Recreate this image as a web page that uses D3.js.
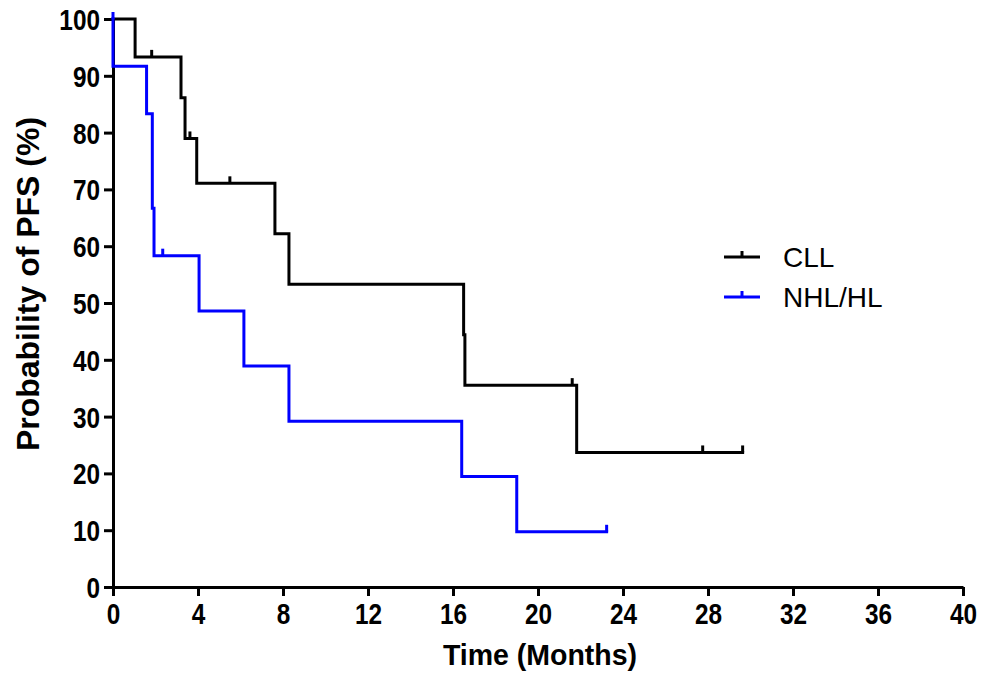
<!DOCTYPE html>
<html>
<head>
<meta charset="utf-8">
<script src="https://cdn.jsdelivr.net/npm/d3@7"></script>
<style>
  body { margin: 0; background: #fff; }
  svg { display: block; }
</style>
</head>
<body>
<div id="chart"></div>
<script>
// Kaplan-Meier steps: time of each drop (months) and survival after it (%)
var cllTimes = [1.04, 3.2, 3.39, 3.94, 7.62, 8.28, 16.5, 16.56, 21.82];
var cllSurv  = [93.33, 86.15, 78.97, 71.07, 62.19, 53.3, 44.42, 35.54, 23.69];
var cllEnd = 29.63;
var cllCensor = [[1.82, 93.33], [3.62, 78.97], [5.5, 71.07], [21.61, 35.54], [27.75, 23.69], [29.63, 23.69]];

var nhlTimes = [0, 1.58, 1.85, 1.93, 4.05, 6.16, 8.28, 16.41, 19.0];
var nhlSurv  = [91.67, 83.33, 66.67, 58.33, 48.61, 38.89, 29.17, 19.44, 9.72];
var nhlEnd = 23.23;
var nhlCensor = [[0, 100], [2.34, 58.33], [23.23, 9.72]];

var xTicks = [0, 4, 8, 12, 16, 20, 24, 28, 32, 36, 40];
var yTicks = [0, 10, 20, 30, 40, 50, 60, 70, 80, 90, 100];
var groups = ["CLL", "NHL/HL"];
var colors = ["#000000", "#0000ff"];

var w = 982, h = 673;
var svg = d3.select("#chart").append("svg")
    .attr("width", w)
    .attr("height", h);

var x = d3.scaleLinear().domain([0, 40]).range([113, 963]);
var y = d3.scaleLinear().domain([0, 100]).range([587, 19]);

function condense(sel, k) {
  sel.each(function() {
    var len = this.getComputedTextLength();
    d3.select(this).attr("textLength", len * k).attr("lengthAdjust", "spacingAndGlyphs");
  });
}

// axes
var xAxis = svg.append("g")
    .attr("transform", "translate(0," + y(0) + ")")
    .call(d3.axisBottom(x).tickValues(xTicks).tickSize(9).tickSizeOuter(0));
var yAxis = svg.append("g")
    .attr("transform", "translate(" + x(0) + ",0)")
    .call(d3.axisLeft(y).tickValues(yTicks).tickSize(9).tickSizeOuter(0));

[xAxis, yAxis].forEach(function(g) {
  g.select(".domain").attr("stroke", "#000").attr("stroke-width", 3);
  g.selectAll(".tick line").attr("stroke", "#000").attr("stroke-width", 3);
  g.selectAll(".tick text")
    .attr("fill", "#000")
    .style("font-family", "'Liberation Sans', Arial, sans-serif")
    .style("font-weight", "bold")
    .style("font-size", "29px");
});
xAxis.selectAll(".tick text").attr("y", 16).attr("dy", "0.71em");
yAxis.selectAll(".tick text").attr("x", -13).attr("dy", "0.36em");
condense(xAxis.selectAll(".tick text"), 0.84);
condense(yAxis.selectAll(".tick text"), 0.84);

// axis titles
var xt = svg.append("text")
    .attr("x", 540)
    .attr("y", 665)
    .attr("text-anchor", "middle")
    .style("font-family", "'Liberation Sans', Arial, sans-serif")
    .style("font-weight", "bold")
    .style("font-size", "30px")
    .text("Time (Months)");
condense(xt, 0.95);

svg.append("text")
    .attr("transform", "translate(39,284) rotate(-90)")
    .attr("text-anchor", "middle")
    .style("font-family", "'Liberation Sans', Arial, sans-serif")
    .style("font-weight", "bold")
    .style("font-size", "32px")
    .text("Probability of PFS (%)");

// curves
var line = d3.line()
    .x(function(d) { return x(d[0]); })
    .y(function(d) { return y(d[1]); })
    .curve(d3.curveStepAfter);

function kmPoints(times, surv, end) {
  var pts = [[0, 100]];
  times.forEach(function(t, i) { pts.push([t, surv[i]]); });
  pts.push([end, surv[surv.length - 1]]);
  return pts;
}

var series = [
  { pts: kmPoints(cllTimes, cllSurv, cllEnd), censor: cllCensor, color: colors[0] },
  { pts: kmPoints(nhlTimes, nhlSurv, nhlEnd), censor: nhlCensor, color: colors[1] }
];

series.forEach(function(s) {
  svg.append("path")
      .attr("d", line(s.pts))
      .attr("fill", "none")
      .attr("stroke", s.color)
      .attr("stroke-width", 3)
      .attr("stroke-linejoin", "miter")
      .attr("stroke-linecap", "square");
  svg.selectAll(null)
      .data(s.censor)
      .enter().append("line")
      .attr("x1", function(d) { return x(d[0]); })
      .attr("x2", function(d) { return x(d[0]); })
      .attr("y1", function(d) { return y(d[1]); })
      .attr("y2", function(d) { return y(d[1]) - 7; })
      .attr("stroke", s.color)
      .attr("stroke-width", 3);
});

// legend
var legend = svg.selectAll("g.legend")
    .data(groups)
    .enter().append("g")
    .attr("class", "legend")
    .attr("transform", function(d, i) { return "translate(724," + (257 + i * 40) + ")"; });
legend.append("line")
    .attr("x1", 0).attr("x2", 36).attr("y1", 0).attr("y2", 0)
    .attr("stroke", function(d, i) { return colors[i]; })
    .attr("stroke-width", 3);
legend.append("line")
    .attr("x1", 18).attr("x2", 18).attr("y1", 0).attr("y2", -6)
    .attr("stroke", function(d, i) { return colors[i]; })
    .attr("stroke-width", 3);
legend.append("text")
    .attr("x", 59)
    .attr("y", 0)
    .attr("dy", "0.36em")
    .style("font-family", "'Liberation Sans', Arial, sans-serif")
    .style("font-size", "28px")
    .attr("fill", "#000")
    .text(function(d) { return d; });
</script>
</body>
</html>
